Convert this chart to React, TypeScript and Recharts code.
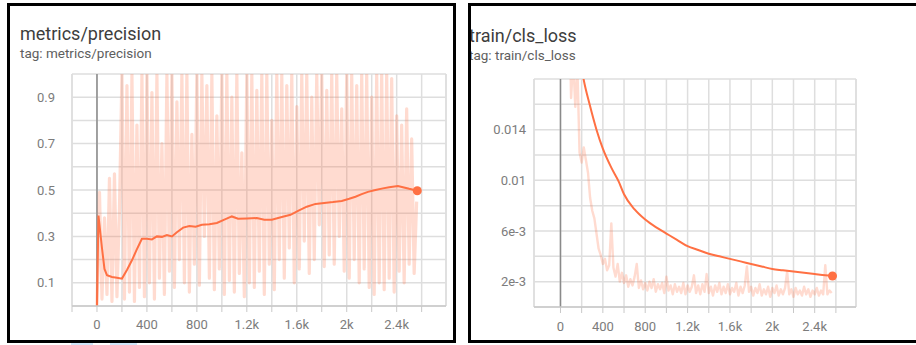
import { LineChart, Line, XAxis, YAxis, CartesianGrid, ReferenceLine, ReferenceDot } from "recharts";

const ORANGE = "#ff7043";
const GRID = "#dedede";
const TICK = "#7c7c7c";

// x axis (training step), shared by both panels
const stepTicks = [-200, 0, 200, 400, 600, 800, 1000, 1200, 1400, 1600, 1800, 2000, 2200, 2400, 2600];
const stepLabels = ["", "0", "", "400", "", "800", "", "1.2k", "", "1.6k", "", "2k", "", "2.4k", ""];

// metrics/precision
const precisionTicks = [0, 0.1, 0.2, 0.3, 0.4, 0.5, 0.6, 0.7, 0.8, 0.9, 1];
const precisionLabels = ["", "0.1", "", "0.3", "", "0.5", "", "0.7", "", "0.9", ""];
const precisionRawStart = 0;
const precisionRawEvery = 20;
const precisionRaw = [
  0.0, 0.49, 0.03, 0.38, 0.05, 0.55, 0.02, 0.57, 0.04, 0.42,
  1.0, 0.03, 0.95, 0.06, 1.0, 0.02, 0.78, 0.08, 1.0, 0.04,
  1.0, 0.1, 0.92, 0.03, 1.0, 0.12, 0.7, 0.05, 1.0, 0.15,
  1.0, 0.08, 0.88, 0.2, 1.0, 0.1, 1.0, 0.06, 0.74, 0.18,
  1.0, 0.09, 1.0, 0.3, 0.95, 0.12, 1.0, 0.07, 0.82, 0.16,
  1.0, 0.05, 1.0, 0.11, 0.9, 0.06, 1.0, 0.14, 0.66, 0.04,
  1.0, 0.1, 1.0, 0.08, 0.93, 0.15, 1.0, 0.05, 1.0, 0.18,
  0.8, 0.07, 1.0, 0.2, 1.0, 0.12, 0.95, 0.25, 1.0, 0.1,
  0.86, 0.16, 1.0, 0.28, 1.0, 0.14, 0.9, 0.2, 1.0, 0.35,
  1.0, 0.17, 0.93, 0.22, 1.0, 0.18, 1.0, 0.3, 0.85, 0.15,
  1.0, 0.12, 1.0, 0.2, 0.95, 0.1, 1.0, 0.16, 1.0, 0.08,
  0.9, 0.05, 1.0, 0.1, 1.0, 0.07, 1.0, 0.12, 0.98, 0.06,
  0.82, 0.15, 0.78, 0.1, 0.85, 0.18, 0.72, 0.14, 0.45,
];
const precisionSmoothSteps = [
  0, 12, 20, 40, 60, 80, 120, 160, 200, 240, 280, 320, 360, 400, 440, 480, 520, 560, 600, 640,
  690, 740, 790, 840, 900, 960, 1020, 1080, 1130, 1200, 1280, 1340, 1400, 1480, 1550, 1610, 1680, 1750, 1820, 1890,
  1960, 2020, 2070, 2120, 2170, 2230, 2290, 2340, 2410, 2450, 2500, 2565,
];
const precisionSmooth = [
  0, 0.39, 0.35, 0.25, 0.16, 0.133, 0.125, 0.122, 0.118, 0.155, 0.197, 0.245, 0.29, 0.29, 0.287, 0.3, 0.298, 0.306, 0.3, 0.318,
  0.338, 0.345, 0.342, 0.35, 0.352, 0.358, 0.372, 0.386, 0.376, 0.377, 0.379, 0.372, 0.372, 0.384, 0.393, 0.41, 0.428, 0.44, 0.444, 0.448,
  0.453, 0.462, 0.471, 0.482, 0.492, 0.5, 0.507, 0.512, 0.517, 0.512, 0.505, 0.497,
];

// train/cls_loss
const lossTicks = [0, 0.002, 0.004, 0.006, 0.008, 0.01, 0.012, 0.014, 0.016, 0.018];
const lossLabels = ["", "2e-3", "", "6e-3", "", "0.01", "", "0.014", "", ""];
const lossRawStart = 80;
const lossRawEvery = 20;
const lossRaw = [
  0.026, 0.0165, 0.0195, 0.0158, 0.0188, 0.0122, 0.0114, 0.0126, 0.0116, 0.0106,
  0.0086, 0.0076, 0.007, 0.0058, 0.0046, 0.0041, 0.0034, 0.0038, 0.0029, 0.0033,
  0.0066, 0.0031, 0.0024, 0.0034, 0.002, 0.0027, 0.0019, 0.0025, 0.0016, 0.0022,
  0.0017, 0.0024, 0.0034, 0.0015, 0.0021, 0.0014, 0.0019, 0.0013, 0.002, 0.0015,
  0.0022, 0.0012, 0.0018, 0.0014, 0.0019, 0.0011, 0.0024, 0.0013, 0.0017, 0.001,
  0.0018, 0.0012, 0.0016, 0.0011, 0.0019, 0.001, 0.0017, 0.0012, 0.0016, 0.0025,
  0.0011, 0.0017, 0.001, 0.0018, 0.0012, 0.0026, 0.0011, 0.0016, 0.0009, 0.0017,
  0.0012, 0.0019, 0.001, 0.0016, 0.0011, 0.0018, 0.001, 0.0015, 0.0012, 0.0019,
  0.0009, 0.0016, 0.0011, 0.0017, 0.0032, 0.0012, 0.0016, 0.0009, 0.0015, 0.0011,
  0.0018, 0.0009, 0.0014, 0.001, 0.0016, 0.0008, 0.0015, 0.0011, 0.0017, 0.0009,
  0.0014, 0.001, 0.0015, 0.0028, 0.001, 0.0014, 0.0008, 0.0015, 0.001, 0.0013,
  0.0009, 0.0016, 0.001, 0.0014, 0.0008, 0.0013, 0.001, 0.0015, 0.0009, 0.0013,
  0.001, 0.0033, 0.001, 0.0013, 0.0011,
];
const lossSmoothSteps = [
  0, 60, 120, 170, 218, 275, 340, 400, 480, 550, 600, 700, 800, 900, 1000, 1100,
  1200, 1300, 1400, 1500, 1600, 1700, 1800, 1900, 2000, 2100, 2200, 2300, 2400, 2500, 2568,
];
const lossSmooth = [
  0.034, 0.028, 0.0235, 0.0205, 0.018, 0.016, 0.014, 0.0125, 0.011, 0.0099, 0.0089, 0.0077, 0.0069, 0.0063, 0.0058, 0.0053,
  0.0048, 0.0045, 0.0042, 0.004, 0.0038, 0.0036, 0.0034, 0.0032, 0.003, 0.0029, 0.0028, 0.0027, 0.0026, 0.0025, 0.00245,
];

type Pt = { step: number; value: number };

const regular = (start: number, every: number, vals: number[]): Pt[] =>
  vals.map((v, i) => ({ step: start + i * every, value: v }));
const paired = (steps: number[], vals: number[]): Pt[] =>
  steps.map((s, i) => ({ step: s, value: vals[i] }));

interface ScalarProps {
  width: number;
  height: number;
  margin: { top: number; right: number; bottom: number; left: number };
  xDomain: [number, number];
  xTicks: number[];
  xTickMargin: number;
  yDomain: [number, number];
  yTicks: number[];
  yLabels: string[];
  yTickMargin: number;
  raw: Pt[];
  rawWidth: number;
  smooth: Pt[];
  smoothType: "linear" | "monotone";
}

function ScalarChart(p: ScalarProps) {
  const last = p.smooth[p.smooth.length - 1];
  const tick = { fill: TICK, fontSize: 13, fontFamily: "Roboto" };
  return (
    <LineChart width={p.width} height={p.height} margin={p.margin}>
      <CartesianGrid stroke={GRID} strokeWidth={1.5} />
      <XAxis
        type="number"
        dataKey="step"
        domain={p.xDomain}
        ticks={p.xTicks}
        interval={0}
        allowDataOverflow
        height={30}
        tick={tick}
        tickSize={6}
        tickMargin={p.xTickMargin}
        tickLine={{ stroke: "#c8c8c8" }}
        axisLine={{ stroke: "#c8c8c8", strokeWidth: 1.5 }}
        tickFormatter={(v: number) => stepLabels[stepTicks.indexOf(v)] ?? ""}
      />
      <YAxis
        type="number"
        dataKey="value"
        domain={p.yDomain}
        ticks={p.yTicks}
        interval={0}
        allowDataOverflow
        width={60}
        tick={tick}
        tickSize={6}
        tickMargin={p.yTickMargin}
        tickLine={false}
        axisLine={false}
        tickFormatter={(v: number) => p.yLabels[p.yTicks.indexOf(v)] ?? ""}
      />
      <ReferenceLine x={p.xDomain[0]} stroke={GRID} strokeWidth={1.5} />
      <ReferenceLine x={p.xDomain[1]} stroke={GRID} strokeWidth={1.5} />
      <ReferenceLine x={0} stroke="#8a8a8a" strokeWidth={1.5} />
      <Line
        data={p.raw}
        dataKey="value"
        type="linear"
        stroke={ORANGE}
        strokeOpacity={0.25}
        strokeWidth={p.rawWidth}
        strokeLinejoin="round"
        dot={false}
        activeDot={false}
        isAnimationActive={false}
      />
      <Line
        data={p.smooth}
        dataKey="value"
        type={p.smoothType}
        stroke={ORANGE}
        strokeWidth={2}
        dot={false}
        activeDot={false}
        isAnimationActive={false}
      />
      <ReferenceDot x={last.step} y={last.value} r={4.5} fill={ORANGE} stroke="none" />
    </LineChart>
  );
}

const titleStyle = {
  position: "absolute" as const,
  fontFamily: "Roboto",
  fontSize: 18,
  lineHeight: "18px",
  color: "#3d3d3d",
  whiteSpace: "nowrap" as const,
};
const tagStyle = {
  position: "absolute" as const,
  fontFamily: "Roboto",
  fontSize: 13.5,
  lineHeight: "13.5px",
  color: "#5e5e5e",
  whiteSpace: "nowrap" as const,
};

export default function App() {
  return (
    <div style={{ position: "relative", width: 916, height: 345, background: "#fff", overflow: "hidden" }}>
      <style>{"body{margin:0}"}</style>

      <div style={{ position: "absolute", left: 0, top: 0 }}>
        <ScalarChart
          width={460}
          height={345}
          margin={{ top: 74, right: 14, bottom: 9, left: 12 }}
          xDomain={[-200, 2795]}
          xTicks={stepTicks}
          xTickMargin={8}
          yDomain={[0, 1]}
          yTicks={precisionTicks}
          yLabels={precisionLabels}
          yTickMargin={11}
          raw={regular(precisionRawStart, precisionRawEvery, precisionRaw)}
          rawWidth={3.2}
          smooth={paired(precisionSmoothSteps, precisionSmooth)}
          smoothType="linear"
        />
      </div>

      <div style={{ position: "absolute", left: 460, top: 0 }}>
        <ScalarChart
          width={456}
          height={345}
          margin={{ top: 79, right: 60, bottom: 8, left: 14 }}
          xDomain={[-250, 2790]}
          xTicks={stepTicks.slice(1)}
          xTickMargin={9}
          yDomain={[0, 0.018]}
          yTicks={lossTicks}
          yLabels={lossLabels}
          yTickMargin={2}
          raw={regular(lossRawStart, lossRawEvery, lossRaw)}
          rawWidth={2.4}
          smooth={paired(lossSmoothSteps, lossSmooth)}
          smoothType="monotone"
        />
      </div>

      <div style={{ ...titleStyle, left: 20, top: 25 }}>metrics/precision</div>
      <div style={{ ...tagStyle, left: 20, top: 47 }}>tag: metrics/precision</div>
      <div style={{ ...titleStyle, left: 469, top: 27 }}>train/cls_loss</div>
      <div style={{ ...tagStyle, left: 469, top: 49 }}>tag: train/cls_loss</div>

      <div style={{ position: "absolute", left: 71, top: 342, width: 22, height: 3, background: "#cfe5f8" }} />
      <div style={{ position: "absolute", left: 110, top: 342, width: 27, height: 3, background: "#cfe5f8" }} />

      <div style={{ position: "absolute", left: 7, top: 3, width: 449, height: 340, border: "3px solid #000", boxSizing: "border-box" }} />
      <div style={{ position: "absolute", left: 468, top: 3, width: 460, height: 340, border: "3px solid #000", boxSizing: "border-box" }} />
    </div>
  );
}
